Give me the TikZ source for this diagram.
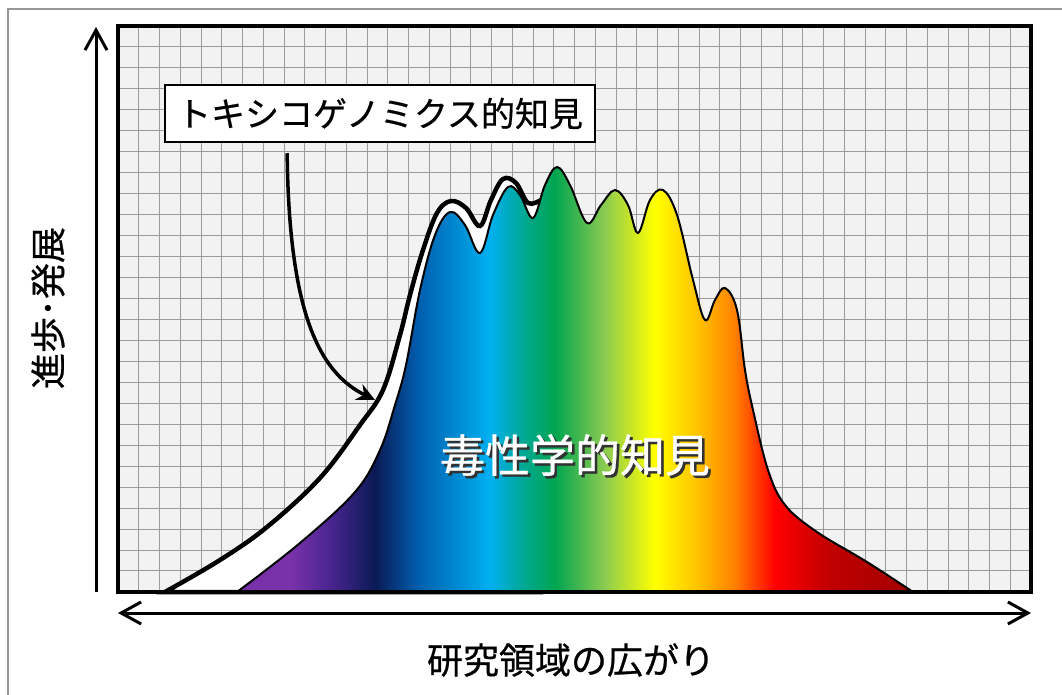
\documentclass[tikz,border=0pt]{standalone}
\usepackage{fontspec}
\usepackage{tikz}
\usetikzlibrary{arrows.meta}
\newfontfamily\jpfont{Noto Sans CJK JP}[FakeBold=0.6]
\definecolor{framecolor}{RGB}{150, 150, 150}
\definecolor{papercolor}{RGB}{242, 242, 242}
\definecolor{gridcolor}{RGB}{155, 155, 155}
\definecolor{shadowcolor}{RGB}{50, 50, 50}
\pgfdeclarehorizontalshading{spectrum}{100bp}{%
  color(0bp)=(rgb,255:red,120;green,48;blue,168);
  color(25bp)=(rgb,255:red,120;green,48;blue,168);
  color(28.9bp)=(rgb,255:red,122;green,50;blue,170);
  color(31.9bp)=(rgb,255:red,74;green,37;blue,144);
  color(35.2bp)=(rgb,255:red,10;green,26;blue,85);
  color(38.5bp)=(rgb,255:red,0;green,96;blue,176);
  color(43.7bp)=(rgb,255:red,0;green,176;blue,240);
  color(46.3bp)=(rgb,255:red,0;green,168;blue,144);
  color(48.5bp)=(rgb,255:red,0;green,165;blue,80);
  color(52.2bp)=(rgb,255:red,140;green,203;blue,80);
  color(55.9bp)=(rgb,255:red,255;green,255;blue,0);
  color(59.2bp)=(rgb,255:red,255;green,192;blue,0);
  color(61.8bp)=(rgb,255:red,255;green,128;blue,0);
  color(64.8bp)=(rgb,255:red,255;green,0;blue,0);
  color(68.9bp)=(rgb,255:red,192;green,0;blue,0);
  color(75bp)=(rgb,255:red,160;green,0;blue,0);
  color(100bp)=(rgb,255:red,160;green,0;blue,0)}
\tikzstyle{gridline} = [draw=gridcolor, line width=1pt]
\tikzstyle{axis} = [line width=3pt, color=black]
\tikzstyle{labelbox} = [draw=black, fill=white, rectangle, line width=2.5pt, minimum width=430pt, minimum height=57pt, text centered, font=\jpfont\fontsize{34}{40}\selectfont]
\tikzstyle{axislabel} = [font=\jpfont\fontsize{36}{42}\selectfont]
\tikzstyle{bigtext} = [font=\jpfont\fontsize{45}{50}\selectfont]
\tikzstyle{pointer} = [line width=3.5pt, -{Stealth[length=18pt, width=17pt]}]

\begin{document}
\begin{tikzpicture}[x=1pt, y=-1pt]
\useasboundingbox (0,0) rectangle (1062,695);
\fill[white] (0,0) rectangle (1062,695);
\draw[framecolor, line width=1.5pt] (8,695) -- (8,9) -- (1062,9);

% Grid
\fill[papercolor] (118,26) rectangle (1031,592);
\foreach \i in {1,...,43} \draw[gridline] ({118+\i*20.75},26) -- ({118+\i*20.75},592);
\foreach \j in {1,...,26} \draw[gridline] (118,{26+\j*20.96}) -- (1031,{26+\j*20.96});

% Curves
\filldraw[fill=white, draw=black, line width=4.5pt] plot[smooth, tension=0.6] coordinates {(165,592) (220,560) (267,527) (320,478) (360,425) (383,390) (400,335) (410,295) (423,250) (437,213) (451,201) (466,208) (480,226) (491,200) (503,179) (516,183) (528,203) (541,200)} -- (541,592) -- cycle;
\shadedraw[shading=spectrum, draw=black, line width=2pt] plot[smooth, tension=0.6] coordinates {(237,592) (300,543) (355,492) (380,450) (395,405) (406,365) (420,290) (435,235) (450,212) (465,225) (480,253) (493,215) (508,187) (520,195) (533,218) (545,185) (557,167) (570,185) (587,223) (601,205) (615,190) (628,205) (638,233) (650,200) (663,190) (677,215) (693,280) (705,320) (715,300) (725,288) (737,310) (745,370) (753,410) (768,470) (785,505) (817,532) (867,562) (913,592)} -- cycle;
\draw[black, line width=3.5pt] (118,26) rectangle (1031,592);

% Axes
\coordinate (yfoot) at (96,592);
\coordinate (ytop) at (96,27);
\coordinate (xleft) at (118,613);
\coordinate (xright) at (1031,613);
\draw[axis, -{Straight Barb[length=20pt, width=22pt]}] (yfoot) -- (ytop);
\draw[axis, {Straight Barb[length=20pt, width=22pt]}-{Straight Barb[length=20pt, width=22pt]}] (xleft) -- (xright);

% Nodes
\node (ylabel) [axislabel, rotate=90] at (48,308) {進歩･発展};
\node (xlabel) [axislabel] at (571,660) {研究領域の広がり};
\node (toxbox) [labelbox] at (380,113.5) {トキシコゲノミクス的知見};
\coordinate (envpoint) at (375,400);
\node (toxshadow) [bigtext, text=shadowcolor] at (577.5,457.5) {毒性学的知見};
\node (toxlabel) [bigtext, text=white] at (575,455) {毒性学的知見};

% Arrows
\draw[pointer, shorten <=10pt] ([xshift=-93pt]toxbox.south) .. controls (289,310) and (318,372) .. (envpoint);

\end{tikzpicture}
\end{document}
